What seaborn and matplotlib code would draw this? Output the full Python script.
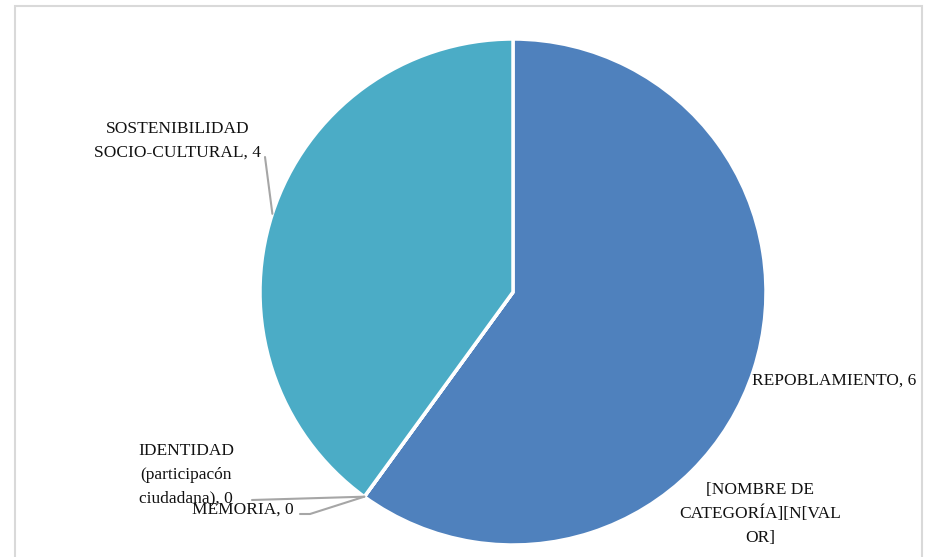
import numpy as np
import matplotlib
matplotlib.use("Agg")
from matplotlib import pyplot as plt
from matplotlib.patches import Rectangle
import seaborn as sns

# data
categorias = ["REPOBLAMIENTO", "[NOMBRE DE\nCATEGORÍA][N[VAL\nOR]", "MEMORIA",
              "IDENTIDAD\n(participacón\nciudadana)", "SOSTENIBILIDAD\nSOCIO-CULTURAL"]
valores = [6, 0, 0, 0, 4]
etiquetas = ["REPOBLAMIENTO, 6", "[NOMBRE DE\nCATEGORÍA][N[VAL\nOR]", "MEMORIA, 0",
             "IDENTIDAD\n(participacón\nciudadana), 0", "SOSTENIBILIDAD\nSOCIO-CULTURAL, 4"]
colores = ["#4F81BD", "#C0504D", "#9BBB59", "#8064A2", "#4BACC6"]

W, H = 926, 557
centro = (513, H - 292)
radio = 253

# label placement in pixels (x, y from top), and leader line elbow (None = no line)
pos_etiqueta = [(834, 381), (760, 514), (243, 510), (186, 475), (178, 141)]
codo = [None, None, (300, 514), (252, 500), (265, 157)]

sns.set_style("white")
plt.rcParams['font.family'] = ['Liberation Serif', 'DejaVu Serif']

fig = plt.figure(figsize=(W / 100, H / 100), dpi=100)
ax = fig.add_axes([0, 0, 1, 1])

wedges, _ = ax.pie(valores, colors=colores, startangle=90, counterclock=False,
                   center=centro, radius=radio, frame=True,
                   wedgeprops=dict(edgecolor="white", linewidth=2.5))
ax.set_xlim(0, W)
ax.set_ylim(0, H)
ax.set_aspect("equal")
ax.axis("off")

for w, txt, (px, py), c in zip(wedges, etiquetas, pos_etiqueta, codo):
    ax.text(px, H - py, txt, ha="center", va="center", fontsize=12.5,
            color="#111111", linespacing=1.65, zorder=3)
    if c is not None:
        ang = np.deg2rad((w.theta1 + w.theta2) / 2)
        ax_, ay_ = centro[0] + radio * np.cos(ang), centro[1] + radio * np.sin(ang)
        xs = [c[0], ax_]
        ys = [H - c[1], ay_]
        if txt.startswith("MEMORIA"):
            xs = [c[0], c[0] + 10, ax_]
            ys = [H - c[1], H - c[1], ay_]
        ax.plot(xs, ys, color="#a6a6a6", lw=1.5, zorder=2)

fig.patches.append(Rectangle((15 / W, -0.01), 907 / W, 1 - 6 / H + 0.01,
                             transform=fig.transFigure, fill=False,
                             edgecolor="#d9d9d9", linewidth=1.5))

fig.savefig("out.png", dpi=100, facecolor="white")
